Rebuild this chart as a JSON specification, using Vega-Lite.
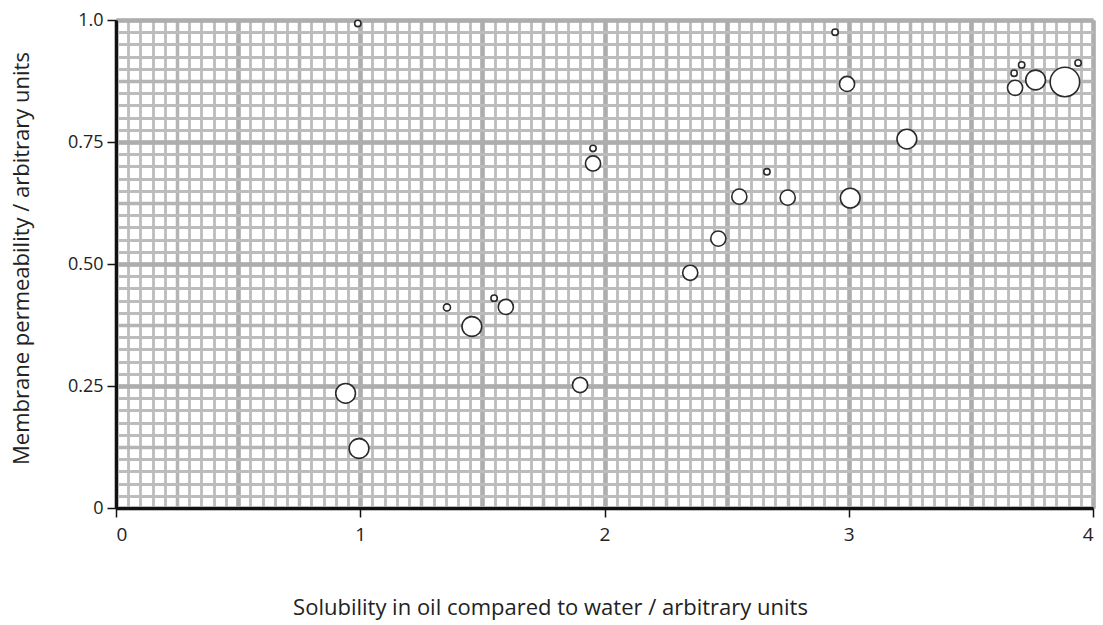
{
  "$schema": "https://vega.github.io/schema/vega-lite/v6.json",
  "width": 977,
  "height": 488,
  "autosize": {"type": "none"},
  "padding": {"left": 116, "top": 20, "right": 10, "bottom": 117},
  "background": "white",
  "config": {
    "view": {"stroke": null},
    "font": "Open Sans",
    "axis": {"labelFont": "Open Sans", "titleFont": "Open Sans"}
  },
  "data": {
    "values": [
      {"solubility": 0.99, "permeability": 0.993, "s": 4},
      {"solubility": 0.94, "permeability": 0.235, "s": 39},
      {"solubility": 0.995, "permeability": 0.122, "s": 39},
      {"solubility": 1.355, "permeability": 0.411, "s": 5},
      {"solubility": 1.457, "permeability": 0.372, "s": 39},
      {"solubility": 1.548, "permeability": 0.430, "s": 4},
      {"solubility": 1.596, "permeability": 0.412, "s": 23},
      {"solubility": 1.90, "permeability": 0.252, "s": 23},
      {"solubility": 1.953, "permeability": 0.737, "s": 4},
      {"solubility": 1.953, "permeability": 0.706, "s": 23},
      {"solubility": 2.351, "permeability": 0.482, "s": 23},
      {"solubility": 2.466, "permeability": 0.552, "s": 23},
      {"solubility": 2.552, "permeability": 0.638, "s": 23},
      {"solubility": 2.665, "permeability": 0.689, "s": 4},
      {"solubility": 2.750, "permeability": 0.636, "s": 23},
      {"solubility": 2.944, "permeability": 0.975, "s": 4},
      {"solubility": 2.993, "permeability": 0.869, "s": 23},
      {"solubility": 3.006, "permeability": 0.635, "s": 39},
      {"solubility": 3.238, "permeability": 0.756, "s": 39},
      {"solubility": 3.677, "permeability": 0.891, "s": 4},
      {"solubility": 3.708, "permeability": 0.908, "s": 4},
      {"solubility": 3.681, "permeability": 0.861, "s": 23},
      {"solubility": 3.765, "permeability": 0.877, "s": 39},
      {"solubility": 3.885, "permeability": 0.873, "s": 87},
      {"solubility": 3.939, "permeability": 0.912, "s": 4}
    ]
  },
  "resolve": {"axis": {"x": "independent", "y": "independent"}},
  "layer": [
    {
      "mark": {"type": "point", "opacity": 0},
      "encoding": {
        "x": {"field": "solubility", "type": "quantitative", "scale": {"domain": [0, 4], "nice": false, "zero": false},
          "axis": {"orient": "top", "title": null, "labels": false, "ticks": false, "domain": false, "grid": true, "gridColor": "#bcbcbc", "gridWidth": 2.8, "gridOpacity": 1,
            "values": [0,0.05,0.1,0.15,0.2,0.25,0.3,0.35,0.4,0.45,0.5,0.55,0.6,0.65,0.7,0.75,0.8,0.85,0.9,0.95,1,1.05,1.1,1.15,1.2,1.25,1.3,1.35,1.4,1.45,1.5,1.55,1.6,1.65,1.7,1.75,1.8,1.85,1.9,1.95,2,2.05,2.1,2.15,2.2,2.25,2.3,2.35,2.4,2.45,2.5,2.55,2.6,2.65,2.7,2.75,2.8,2.85,2.9,2.95,3,3.05,3.1,3.15,3.2,3.25,3.3,3.35,3.4,3.45,3.5,3.55,3.6,3.65,3.7,3.75,3.8,3.85,3.9,3.95,4]}},
        "y": {"field": "permeability", "type": "quantitative", "scale": {"domain": [0, 1], "nice": false},
          "axis": {"orient": "right", "title": null, "labels": false, "ticks": false, "domain": false, "grid": true, "gridColor": "#bcbcbc", "gridWidth": 2.8, "gridOpacity": 1,
            "values": [0,0.025,0.05,0.075,0.1,0.125,0.15,0.175,0.2,0.225,0.25,0.275,0.3,0.325,0.35,0.375,0.4,0.425,0.45,0.475,0.5,0.525,0.55,0.575,0.6,0.625,0.65,0.675,0.7,0.725,0.75,0.775,0.8,0.825,0.85,0.875,0.9,0.925,0.95,0.975,1]}}
      }
    },
    {
      "mark": {"type": "point", "opacity": 0},
      "encoding": {
        "x": {"field": "solubility", "type": "quantitative",
          "axis": {"orient": "top", "title": null, "labels": false, "ticks": false, "domain": false, "grid": true, "gridColor": "#b4b4b4", "gridWidth": 3.5, "gridOpacity": 1,
            "values": [0,0.25,0.5,0.75,1,1.25,1.5,1.75,2,2.25,2.5,2.75,3,3.25,3.5,3.75,4]}},
        "y": {"field": "permeability", "type": "quantitative",
          "axis": {"orient": "right", "title": null, "labels": false, "ticks": false, "domain": false, "grid": true, "gridColor": "#b4b4b4", "gridWidth": 3.5, "gridOpacity": 1,
            "values": [0,0.125,0.25,0.375,0.5,0.625,0.75,0.875,1]}}
      }
    },
    {
      "mark": {"type": "point", "opacity": 0},
      "encoding": {
        "x": {"field": "solubility", "type": "quantitative",
          "axis": {"orient": "top", "title": null, "labels": false, "ticks": false, "domain": false, "grid": true, "gridColor": "#adadad", "gridWidth": 4.5, "gridOpacity": 1,
            "values": [0,0.5,1,1.5,2,2.5,3,3.5,4]}},
        "y": {"field": "permeability", "type": "quantitative",
          "axis": {"orient": "right", "title": null, "labels": false, "ticks": false, "domain": false, "grid": true, "gridColor": "#adadad", "gridWidth": 4.5, "gridOpacity": 1,
            "values": [0,0.25,0.5,0.75,1]}}
      }
    },
    {
      "mark": {"type": "point", "filled": true, "fill": "white", "stroke": "#2a2a2a", "strokeWidth": 1.6, "opacity": 1, "fillOpacity": 1},
      "encoding": {
        "x": {"field": "solubility", "type": "quantitative",
          "axis": {"orient": "bottom", "title": "Solubility in oil compared to water / arbitrary units", "values": [0,1,2,3,4], "format": "d",
            "grid": false, "domain": true, "domainColor": "#111111", "domainWidth": 3, "ticks": true, "tickColor": "#111111", "tickWidth": 1.5, "tickSize": 9,
            "labelFontSize": 19, "labelColor": "#222222", "labelPadding": 8,
            "titleFontSize": 22, "titleFontWeight": "normal", "titleColor": "#222222", "titlePadding": 53, "titleX": 434}},
        "y": {"field": "permeability", "type": "quantitative",
          "axis": {"orient": "left", "title": "Membrane permeability / arbitrary units", "values": [0,0.25,0.5,0.75,1],
            "labelExpr": "datum.value == 0 ? '0' : (datum.value == 1 ? '1.0' : format(datum.value, '.2f'))",
            "grid": false, "domain": true, "domainColor": "#111111", "domainWidth": 3, "ticks": true, "tickColor": "#111111", "tickWidth": 1.5, "tickSize": 9,
            "labelFontSize": 18, "labelColor": "#222222", "labelPadding": 4,
            "titleFontSize": 22, "titleFontWeight": "normal", "titleColor": "#222222", "titlePadding": 34, "titleY": 238}},
        "size": {"field": "s", "type": "quantitative", "scale": {"type": "linear", "domain": [0, 100], "range": [0, 1000], "zero": true}, "legend": null}
      }
    }
  ]
}
